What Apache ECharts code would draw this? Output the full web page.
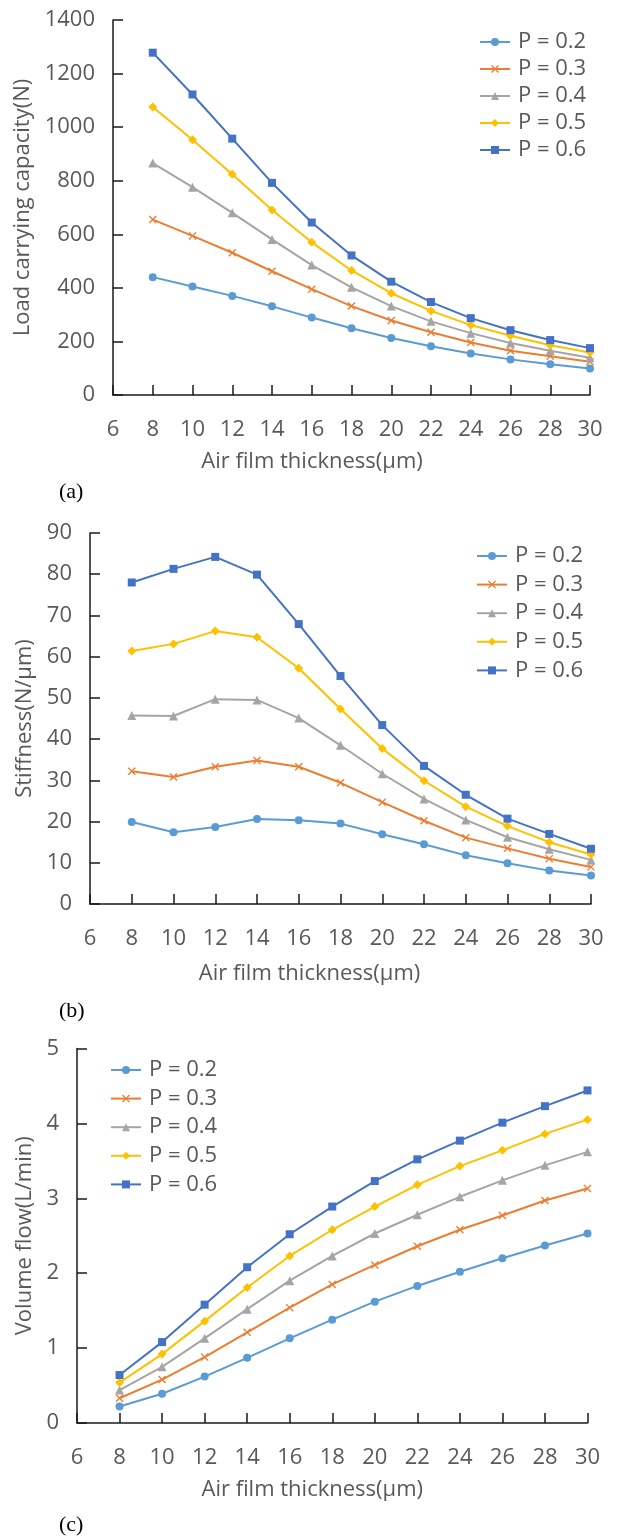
<!DOCTYPE html>
<html>
<head>
<meta charset="utf-8">
<script src="https://cdn.jsdelivr.net/npm/echarts@6/dist/echarts.min.js"></script>
<style>
html,body{margin:0;padding:0;background:#fff;}
#chart{width:617px;height:1537px;}
</style>
</head>
<body>
<div id="chart"></div>
<script>
// ---- data ----
const thickness = [8, 10, 12, 14, 16, 18, 20, 22, 24, 26, 28, 30];
const seriesNames = ['P = 0.2', 'P = 0.3', 'P = 0.4', 'P = 0.5', 'P = 0.6'];

// (a) Load carrying capacity (N)
const loadP02 = [440, 405, 370, 331, 289, 249, 213, 182, 155, 133, 115, 99];
const loadP03 = [655, 594, 531, 462, 395, 332, 278, 234, 196, 165, 145, 124];
const loadP04 = [866, 776, 680, 581, 485, 402, 332, 275, 231, 194, 165, 139];
const loadP05 = [1075, 953, 824, 691, 570, 465, 380, 314, 261, 221, 186, 159];
const loadP06 = [1278, 1122, 957, 792, 644, 521, 423, 347, 287, 242, 205, 175];

// (b) Stiffness (N/um)
const stiffP02 = [19.9, 17.4, 18.7, 20.6, 20.3, 19.5, 16.9, 14.5, 11.8, 9.9, 8.1, 6.9];
const stiffP03 = [32.2, 30.8, 33.3, 34.8, 33.3, 29.4, 24.7, 20.2, 16.1, 13.5, 11.0, 9.0];
const stiffP04 = [45.7, 45.6, 49.7, 49.5, 45.1, 38.5, 31.6, 25.5, 20.4, 16.2, 13.3, 10.7];
const stiffP05 = [61.4, 63.1, 66.2, 64.7, 57.2, 47.3, 37.7, 29.9, 23.6, 18.9, 15.0, 12.0];
const stiffP06 = [78.0, 81.3, 84.2, 79.9, 67.9, 55.3, 43.4, 33.5, 26.5, 20.7, 17.0, 13.4];

// (c) Volume flow (L/min)
const flowP02 = [0.22, 0.39, 0.62, 0.87, 1.13, 1.38, 1.62, 1.83, 2.02, 2.20, 2.37, 2.53];
const flowP03 = [0.33, 0.58, 0.88, 1.21, 1.54, 1.85, 2.11, 2.36, 2.58, 2.77, 2.97, 3.13];
const flowP04 = [0.44, 0.75, 1.13, 1.52, 1.90, 2.23, 2.53, 2.78, 3.02, 3.24, 3.44, 3.62];
const flowP05 = [0.54, 0.92, 1.36, 1.81, 2.23, 2.58, 2.89, 3.18, 3.43, 3.64, 3.86, 4.05];
const flowP06 = [0.64, 1.08, 1.58, 2.08, 2.52, 2.89, 3.23, 3.52, 3.77, 4.01, 4.23, 4.44];

const xTitle = 'Air film thickness(μm)';
const yTitles = ['Load carrying capacity(N)', 'Stiffness(N/μm)', 'Volume flow(L/min)'];
const panelLabels = ['(a)', '(b)', '(c)'];

// ---- styles ----
const FONT = 'Open Sans';
const TXT = '#595959';
const AXC = '#1a1a1a';
const colors = ['#5B9BD5', '#ED7D31', '#A5A5A5', '#FFC000', '#4472C4'];
const crossPath = 'path://M0,1.2 L1.2,0 L5,3.8 L8.8,0 L10,1.2 L6.2,5 L10,8.8 L8.8,10 L5,6.2 L1.2,10 L0,8.8 L3.8,5 Z';
const symbols = ['circle', crossPath, 'triangle', 'diamond', 'rect'];
const symSizes = [8, 8, 9, 9, 8];

const panels = [
  {data: [loadP02, loadP03, loadP04, loadP05, loadP06], yMin: 0, yMax: 1400, yInt: 200,
   grid: {left: 113, top: 20, width: 477, height: 375}, yGap: 74, xPadR: 79, xGap: 56,
   legend: {left: 474, top: 26, gap: 5}, label: {x: 59, y: 493}},
  {data: [stiffP02, stiffP03, stiffP04, stiffP05, stiffP06], yMin: 0, yMax: 90, yInt: 10,
   grid: {left: 90, top: 533, width: 501, height: 371}, yGap: 54, xPadR: 62, xGap: 59,
   legend: {left: 471, top: 540, gap: 6.6}, label: {x: 59, y: 1012}},
  {data: [flowP02, flowP03, flowP04, flowP05, flowP06], yMin: 0, yMax: 5, yInt: 1,
   grid: {left: 77, top: 1048.5, width: 510.5, height: 374.5}, yGap: 41, xPadR: 40, xGap: 56,
   legend: {left: 105, top: 1054, gap: 6.6}, label: {x: 59, y: 1526}}
];

const option = {
  animation: false,
  backgroundColor: '#fff',
  textStyle: {fontFamily: FONT},
  grid: [], xAxis: [], yAxis: [], legend: [], series: [], graphic: []
};

panels.forEach((p, i) => {
  option.grid.push(Object.assign({containLabel: false}, p.grid));
  option.xAxis.push({
    type: 'value', gridIndex: i, min: 6, max: 30, interval: 2,
    name: xTitle, nameLocation: 'middle', nameGap: p.xGap,
    nameTextStyle: {color: TXT, fontSize: 22, fontFamily: FONT, padding: [0, p.xPadR, 0, 0]},
    axisLine: {show: true, onZero: false, lineStyle: {color: AXC, width: 1.5}},
    axisTick: {show: true, inside: true, length: 10, lineStyle: {color: AXC, width: 1.5}},
    axisLabel: {color: TXT, fontSize: 22, fontFamily: FONT, margin: 24, formatter: v => String(v)},
    splitLine: {show: false}
  });
  option.yAxis.push({
    type: 'value', gridIndex: i, min: p.yMin, max: p.yMax, interval: p.yInt,
    name: yTitles[i], nameLocation: 'middle', nameGap: p.yGap, nameRotate: 90,
    nameTextStyle: {color: TXT, fontSize: 22, fontFamily: FONT},
    axisLine: {show: true, onZero: false, lineStyle: {color: AXC, width: 1.5}},
    axisTick: {show: true, inside: true, length: 10, lineStyle: {color: AXC, width: 1.5}},
    axisLabel: {color: TXT, fontSize: 22, fontFamily: FONT, margin: 18, formatter: v => String(v)},
    splitLine: {show: false}
  });
  option.legend.push({
    orient: 'vertical', left: p.legend.left, top: p.legend.top,
    itemGap: p.legend.gap, itemWidth: 30, itemHeight: 10,
    data: seriesNames,
    textStyle: {color: TXT, fontSize: 22, fontFamily: FONT, lineHeight: 22, padding: [0, 0, 0, 3]},
    selectedMode: false
  });
  p.data.forEach((arr, k) => {
    option.series.push({
      type: 'line', name: seriesNames[k], xAxisIndex: i, yAxisIndex: i,
      data: thickness.map((x, j) => [x, arr[j]]),
      symbol: symbols[k], symbolSize: symSizes[k], showSymbol: true,
      lineStyle: {color: colors[k], width: 2},
      itemStyle: {color: colors[k], borderWidth: 0},
      emphasis: {disabled: true},
      z: 2 + k
    });
  });
  option.graphic.push({
    type: 'text', left: p.label.x, top: p.label.y - 12,
    style: {text: panelLabels[i], font: '22px "Liberation Serif", "Times New Roman", serif', fill: '#000'}
  });
});

const chart = echarts.init(document.getElementById('chart'), null, {renderer: 'canvas'});
chart.setOption(option);
</script>
</body>
</html>
